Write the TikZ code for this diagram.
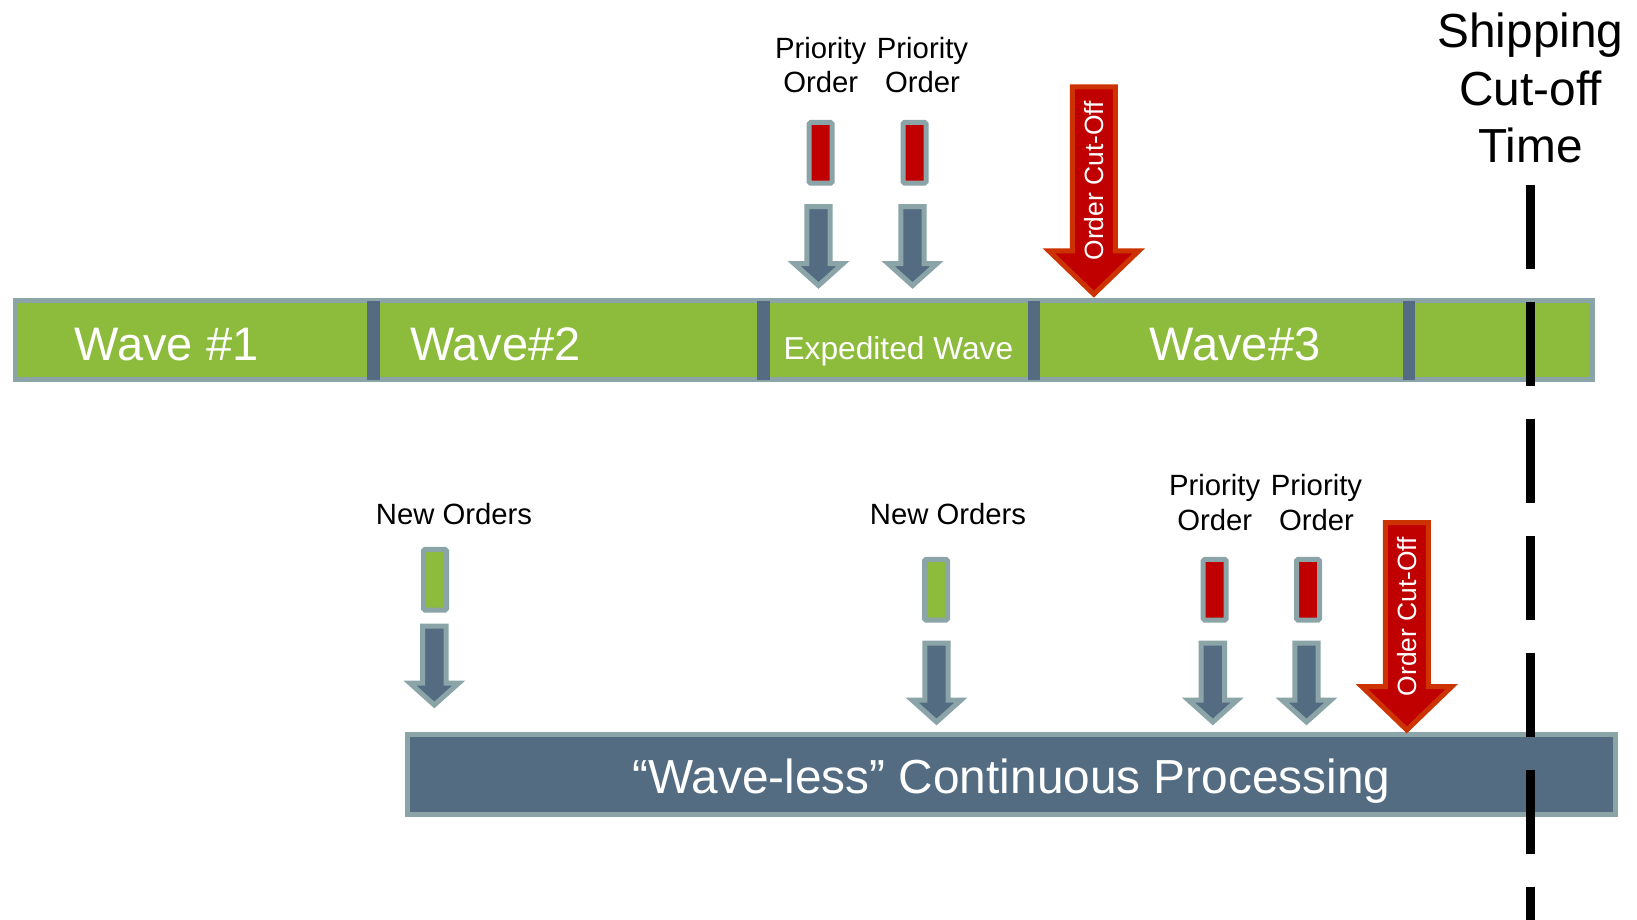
\documentclass[tikz,border=0pt]{standalone}
\usepackage{fontspec}
\setmainfont{Liberation Sans}
\usetikzlibrary{positioning}

\definecolor{wavegreen}{RGB}{141,187,59}
\definecolor{slate}{RGB}{83,108,130}
\definecolor{edgegray}{RGB}{139,164,168}
\definecolor{orderred}{RGB}{192,0,0}
\definecolor{cutorange}{RGB}{204,51,0}

\tikzset{
  pics/downarrow/.style args={#1/#2/#3/#4}{code={
    \path[pic actions] (-#1/2,0) -- (#1/2,0) -- (#1/2,#3) -- (#2/2,#3) -- (0,#4) -- (-#2/2,#3) -- (-#1/2,#3) -- cycle;
  }}
}

\begin{document}
\begin{tikzpicture}[x=1pt,y=-1pt,
wavebar/.style={draw=edgegray, line width=5.5pt, fill=wavegreen, inner sep=0pt, minimum width=1576.5pt, minimum height=79pt},
flowbar/.style={draw=edgegray, line width=5pt, fill=slate, inner sep=0pt, minimum width=1208pt, minimum height=80pt},
divider/.style={fill=slate},
wavelbl/.style={text=white, font=\fontsize{47}{56}\selectfont, anchor=base, inner sep=0pt},
ordbox/.style={draw=edgegray, line width=5pt, rounded corners=1.5pt, minimum width=23pt, minimum height=60.7pt, inner sep=0pt},
newbox/.style={ordbox, fill=wavegreen},
prio/.style={ordbox, fill=orderred},
lbl/.style={font=\fontsize{29.3}{34.4}\selectfont, align=center, inner sep=0pt},
feed/.style={draw=edgegray, line width=5pt, fill=slate},
cutoff/.style={draw=cutorange, line width=5pt, fill=orderred},
cuttext/.style={text=white, font=\fontsize{26.4}{30}\selectfont, rotate=90, inner sep=0pt},
cutline/.style={line width=9pt, dash pattern=on 84pt off 33pt}]

\useasboundingbox (0,0) rectangle (1637,920);

\node[wavebar] (waves) at (803.75,340) {};
\fill[divider] (367.25,300.5) rectangle ++(12.5,79);
\fill[divider] (757.25,300.5) rectangle ++(12.5,79);
\fill[divider] (1027.55,300.5) rectangle ++(12.5,79);
\fill[divider] (1402.75,300.5) rectangle ++(12.5,79);
\node[wavelbl] (w1) at (166.5,360) {Wave \#1};
\node[wavelbl] (w2) at (495.4,360) {Wave\#2};
\node[wavelbl, font=\fontsize{31.7}{38}\selectfont] (wx) at (898.4,359.5) {Expedited Wave};
\node[wavelbl] (w3) at (1235,360) {Wave\#3};

\node[flowbar] (flow) at (1011.5,774.5) {};
\node[wavelbl, font=\fontsize{47.8}{57}\selectfont] (flowlbl) at ([yshift=-18.5pt]flow.center) {“Wave-less” Continuous Processing};

\node[prio] (pb1) at (820.7,152.85) {};
\node[prio] (pb2) at (914.5,152.85) {};
\node[newbox] (gb1) at (435,579.7) {};
\node[newbox] (gb2) at (936,589.7) {};
\node[prio] (pb3) at (1214.7,589.7) {};
\node[prio] (pb4) at (1308,589.7) {};

\node[lbl, above=26.8pt of pb1] (plbl1) {Priority\\Order};
\node[lbl, above=26.8pt of pb2, xshift=8pt] (plbl2) {Priority\\Order};
\node[lbl, above=26pt of pb3] (plbl3) {Priority\\Order};
\node[lbl, above=26pt of pb4, xshift=8.5pt] (plbl4) {Priority\\Order};
\node[lbl, above=22.3pt of gb1, xshift=19pt] (nlbl1) {New Orders};
\node[lbl, above=32.3pt of gb2, xshift=12pt] (nlbl2) {New Orders};

\coordinate (fa1) at (818.5,206.5);
\coordinate (fa2) at (912.5,206.5);
\coordinate (fa3) at (434.3,626);
\coordinate (fa4) at (936.5,643);
\coordinate (fa5) at (1212.8,643);
\coordinate (fa6) at (1306.5,643);
\pic[feed] at (fa1) {downarrow=23.4/49/57/79};
\pic[feed] at (fa2) {downarrow=23.4/49/57/79};
\pic[feed] at (fa3) {downarrow=23.4/49/57/79};
\pic[feed] at (fa4) {downarrow=23.4/49/57/79};
\pic[feed] at (fa5) {downarrow=23.4/49/57/79};
\pic[feed] at (fa6) {downarrow=23.4/49/57/79};

\coordinate (ca1) at (1093.8,86.8);
\coordinate (ca2) at (1406.8,522.5);
\pic[cutoff] at (ca1) {downarrow=43/90/164/207.4};
\pic[cutoff] at (ca2) {downarrow=43/90/164/207.4};
\node[cuttext] (cutlbl1) at ([yshift=-94pt]ca1) {Order Cut-Off};
\node[cuttext] (cutlbl2) at ([yshift=-94pt]ca2) {Order Cut-Off};

\node[lbl, font=\fontsize{47.8}{57.5}\selectfont, anchor=north] (ship) at (1530.5,13) {Shipping\\Cut-off\\Time};
\coordinate (shipend) at (1530.5,920);
\draw[cutline] ([yshift=-21pt]ship.south) -- (shipend);

\end{tikzpicture}
\end{document}
